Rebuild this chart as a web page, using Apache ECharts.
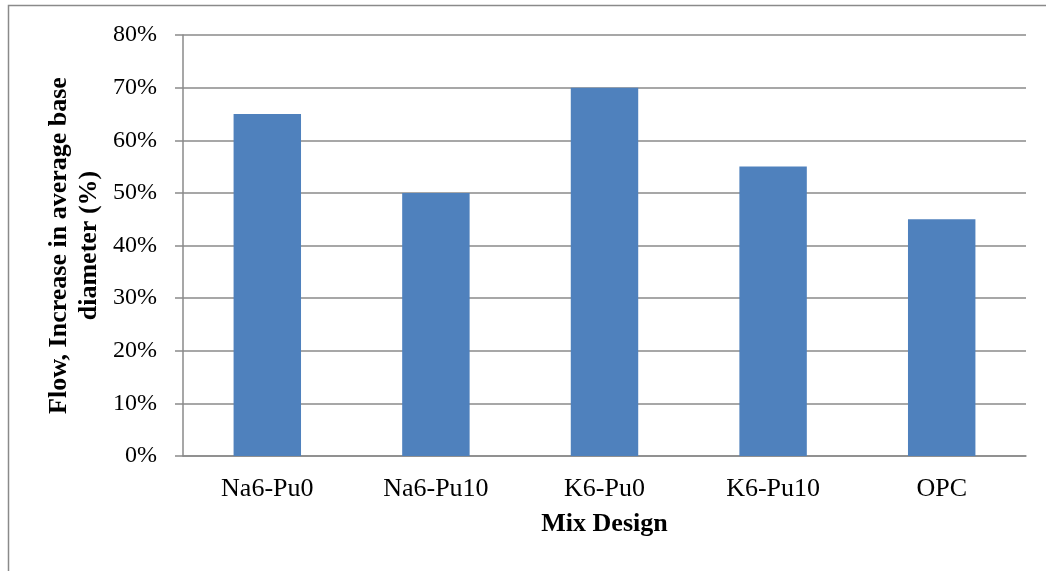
<!DOCTYPE html>
<html>
<head>
<meta charset="utf-8">
<script src="https://cdn.jsdelivr.net/npm/echarts@6/dist/echarts.min.js"></script>
<style>
  html, body { margin: 0; padding: 0; background: #ffffff; }
  #chart { width: 1046px; height: 571px; }
</style>
</head>
<body>
<div id="chart"></div>
<script>
// Mix designs and their flow (increase in average base diameter, %)
const categories = ['Na6-Pu0', 'Na6-Pu10', 'K6-Pu0', 'K6-Pu10', 'OPC'];
const flowValues = [65, 50, 70, 55, 45];
const yTicks = [0, 10, 20, 30, 40, 50, 60, 70, 80];

const serif = '"Liberation Serif", "Times New Roman", serif';
const lineGray = '#8a8a8a';

const chart = echarts.init(document.getElementById('chart'), null, { renderer: 'canvas' });

chart.setOption({
  animation: false,
  backgroundColor: '#ffffff',
  graphic: [{
    type: 'rect',
    shape: { x: 8.5, y: 5.5, width: 1200, height: 800 },
    style: { fill: 'none', stroke: '#8a8a8a', lineWidth: 1.5 },
    silent: true
  }],
  grid: { left: 183, right: 20, top: 35, bottom: 115, containLabel: false },
  xAxis: {
    type: 'category',
    data: categories,
    name: 'Mix Design',
    nameLocation: 'middle',
    nameGap: 55,
    nameMoveOverlap: false,
    nameTextStyle: { fontFamily: serif, fontSize: 26, fontWeight: 'bold', color: '#000' },
    axisLine: { show: true, lineStyle: { color: lineGray, width: 1.5 } },
    axisTick: { show: false },
    axisLabel: { fontFamily: serif, fontSize: 26, color: '#000', margin: 20 }
  },
  yAxis: {
    type: 'value',
    min: yTicks[0],
    max: yTicks[yTicks.length - 1],
    interval: 10,
    name: 'Flow, Increase in average base\ndiameter (%)',
    nameLocation: 'middle',
    nameRotate: 90,
    nameGap: 79,
    nameMoveOverlap: false,
    nameTextStyle: { fontFamily: serif, fontSize: 26, fontWeight: 'bold', color: '#000', lineHeight: 30 },
    axisLine: { show: true, lineStyle: { color: lineGray, width: 1.5 } },
    axisTick: { show: true, inside: false, length: 8, lineStyle: { color: lineGray, width: 1.5 } },
    splitLine: { show: true, lineStyle: { color: lineGray, width: 1.5 } },
    axisLabel: { fontFamily: serif, fontSize: 24, color: '#000', margin: 26, formatter: v => v + '%' }
  },
  series: [{
    type: 'bar',
    data: flowValues,
    barWidth: '40%',
    itemStyle: { color: '#4f81bd' }
  }]
});
</script>
</body>
</html>
